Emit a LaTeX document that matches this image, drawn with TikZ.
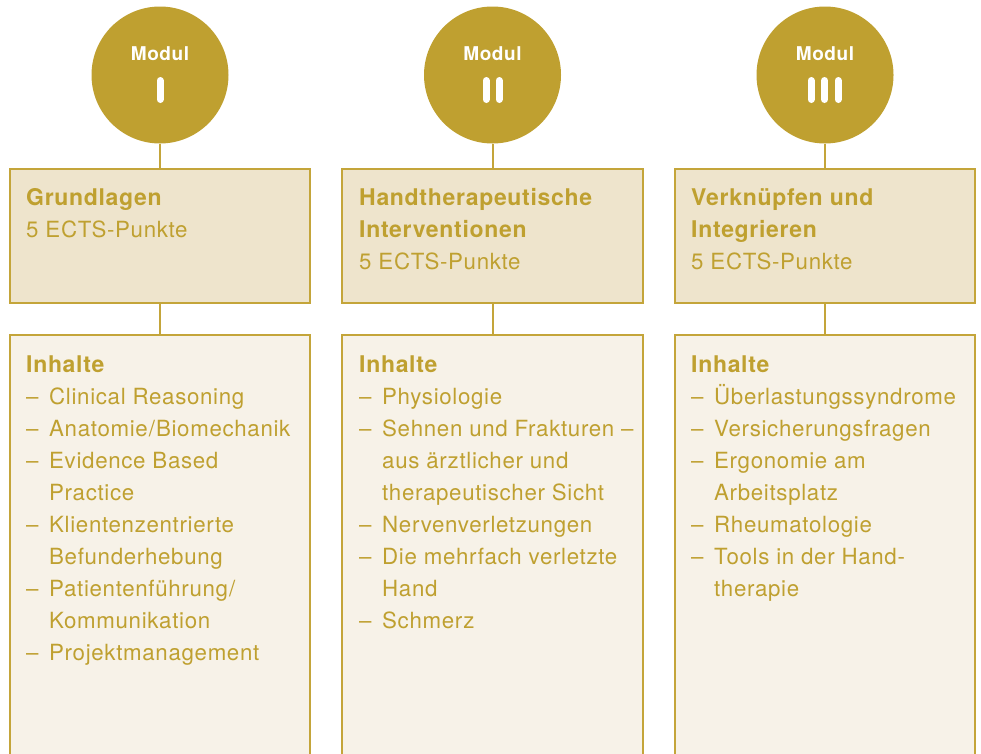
\documentclass[tikz,border=0pt]{standalone}
\usepackage{fontspec}
\setmainfont{TeX Gyre Heros}[LetterSpace=3]
\definecolor{gold}{HTML}{BFA030}
\definecolor{goldline}{HTML}{C4A53A}
\definecolor{topfill}{HTML}{EEE4CC}
\definecolor{botfill}{HTML}{F7F2E8}
\tikzset{
  modcircle/.style={circle, fill=gold, draw=none, minimum size=137pt, inner sep=0pt},
  topbox/.style={draw=goldline, fill=topfill, line width=2pt},
  botbox/.style={draw=goldline, fill=botfill, line width=2pt},
  stem/.style={draw=goldline, line width=2pt},
  modtxt/.style={text=white, font=\fontsize{19}{22}\selectfont\bfseries, inner sep=0pt, anchor=base},
  bar/.style={draw=white, line width=7pt, line cap=round},
  head/.style={text=gold, font=\fontsize{23}{25}\selectfont\bfseries, inner sep=0pt, anchor=base west},
  txt/.style={text=gold, font=\fontsize{22.3}{24}\selectfont, inner sep=0pt, anchor=base west},
}
\begin{document}
\begin{tikzpicture}[x=1pt,y=-1pt]
\useasboundingbox (0,0) rectangle (981,753);
% circles
\node[modcircle] (c1) at (160,75) {};
\node[modcircle] (c2) at (492.5,75) {};
\node[modcircle] (c3) at (825,75) {};
\node[modtxt] (m1) at (160,60.5) {Modul};
\node[modtxt] (m2) at (492.5,60.5) {Modul};
\node[modtxt] (m3) at (825,60.5) {Modul};
\draw[bar] (160,80.5) -- (160,99.5);
\draw[bar] (486,80.5) -- (486,99.5);
\draw[bar] (499,80.5) -- (499,99.5);
\draw[bar] (811,80.5) -- (811,99.5);
\draw[bar] (824.5,80.5) -- (824.5,99.5);
\draw[bar] (838,80.5) -- (838,99.5);
% boxes
\draw[topbox] (10,169) rectangle (310,303);
\draw[topbox] (342,169) rectangle (643,303);
\draw[topbox] (675,169) rectangle (975,303);
\draw[botbox] (10,335) rectangle (310,770);
\draw[botbox] (342,335) rectangle (643,770);
\draw[botbox] (675,335) rectangle (975,770);
\coordinate (t1) at (160,169); \coordinate (b1) at (160,303); \coordinate (u1) at (160,335);
\coordinate (t2) at (492.5,169); \coordinate (b2) at (492.5,303); \coordinate (u2) at (492.5,335);
\coordinate (t3) at (825,169); \coordinate (b3) at (825,303); \coordinate (u3) at (825,335);
\draw[stem] (c1.south) -- (t1); \draw[stem] (b1) -- (u1);
\draw[stem] (c2.south) -- (t2); \draw[stem] (b2) -- (u2);
\draw[stem] (c3.south) -- (t3); \draw[stem] (b3) -- (u3);
% top texts
\node[head] (h1) at (26,205) {Grundlagen};
\node[txt] (e1) at (26,237) {5 ECTS-Punkte};
\node[head] (h2a) at (359,205) {Handtherapeutische};
\node[head] (h2b) at (359,237) {Interventionen};
\node[txt] (e2) at (359,269) {5 ECTS-Punkte};
\node[head] (h3a) at (691,205) {Verknüpfen und};
\node[head] (h3b) at (691,237) {Integrieren};
\node[txt] (e3) at (691,269) {5 ECTS-Punkte};
% bottom texts
\node[head] (i1) at (26,372) {Inhalte};
\node[head] (i2) at (359,372) {Inhalte};
\node[head] (i3) at (691,372) {Inhalte};
% column 1
\foreach \n/\y/\d/\t in {1/404/1/{Clinical Reasoning}, 2/436/1/{Anatomie\kern1pt/\kern1ptBiomechanik}, 3/468/1/{Evidence Based}, 4/500/0/{Practice}, 5/532/1/{Klientenzentrierte}, 6/564/0/{Befunderhebung}, 7/596/1/{Patientenführung\kern1pt/}, 8/628/0/{Kommunikation}, 9/660/1/{Projektmanagement}}{
  \ifnum\d=1 \node[txt] (da\n) at (26,\y) {–};\fi
  \node[txt] (la\n) at (49,\y) {\t};
}
% column 2
\foreach \n/\y/\d/\t in {1/404/1/{Physiologie}, 2/436/1/{Sehnen und Frakturen –}, 3/468/0/{aus ärztlicher und}, 4/500/0/{therapeutischer Sicht}, 5/532/1/{Nervenverletzungen}, 6/564/1/{Die mehrfach verletzte}, 7/596/0/{Hand}, 8/628/1/{Schmerz}}{
  \ifnum\d=1 \node[txt] (db\n) at (359,\y) {–};\fi
  \node[txt] (lb\n) at (382,\y) {\t};
}
% column 3
\foreach \n/\y/\d/\t in {1/404/1/{Überlastungssyndrome}, 2/436/1/{Versicherungsfragen}, 3/468/1/{Ergonomie am}, 4/500/0/{Arbeitsplatz}, 5/532/1/{Rheumatologie}, 6/564/1/{Tools in der Hand-}, 7/596/0/{therapie}}{
  \ifnum\d=1 \node[txt] (dc\n) at (691,\y) {–};\fi
  \node[txt] (lc\n) at (714,\y) {\t};
}
\end{tikzpicture}
\end{document}
